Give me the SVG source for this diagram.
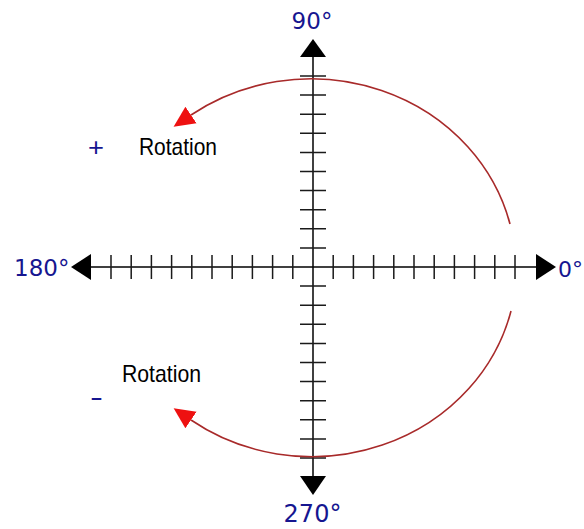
<svg xmlns="http://www.w3.org/2000/svg" width="584" height="529" viewBox="0 0 584 529">
  <style>
    .axis{stroke:#000;stroke-width:1.5;fill:none}
    .tick{stroke:#1a1a1a;stroke-width:1.5;fill:none}
    .head{fill:#000}
    .deg{font-family:"DejaVu Sans",Verdana,sans-serif;fill:#161690}
    .rot{font-family:"Liberation Sans",Arial,sans-serif;font-size:24px;fill:#000}
    .sign{font-family:"Liberation Sans",Arial,sans-serif;fill:#161690}
    .arc{stroke:#a82a2a;stroke-width:1.6;fill:none}
  </style>
  <defs>
    <marker id="redhead" markerUnits="userSpaceOnUse" markerWidth="24" markerHeight="22" refX="0" refY="10" orient="auto" viewBox="0 0 24 20">
      <path d="M0,0 L21,10 L0,20 z" fill="#ee1111"/>
    </marker>
  </defs>
  <rect width="584" height="529" fill="#fff"/>
  <g id="axes">
    <line class="axis" x1="91" y1="267" x2="536" y2="267"/>
    <line class="axis" x1="313" y1="57" x2="313" y2="476"/>
    <polygon class="head" points="313,39 300,57 326,57"/>
    <polygon class="head" points="313,495 300,476 326,476"/>
    <polygon class="head" points="71,267 91,254 91,280"/>
    <polygon class="head" points="556,267 536,254 536,280"/>
  </g>
  <g id="ticks">
    <path class="tick" d="M111,255V279M131.2,255V279M151.4,255V279M171.6,255V279M191.8,255V279M212,255V279M232.2,255V279M252.4,255V279M272.6,255V279M292.8,255V279M333.2,255V279M353.4,255V279M373.6,255V279M393.8,255V279M414,255V279M434.2,255V279M454.4,255V279M474.6,255V279M494.8,255V279M515,255V279"/>
    <path class="tick" d="M300,76H326M300,95.1H326M300,114.2H326M300,133.3H326M300,152.4H326M300,171.5H326M300,190.6H326M300,209.7H326M300,228.8H326M300,247.9H326M300,286.1H326M300,305.2H326M300,324.3H326M300,343.4H326M300,362.5H326M300,381.6H326M300,400.7H326M300,419.8H326M300,438.9H326M300,458H326"/>
  </g>
  <g id="label-90"><text class="deg" x="312" y="29" font-size="23" text-anchor="middle">90°</text></g>
  <g id="label-180"><text class="deg" x="14" y="276" font-size="23">180°</text></g>
  <g id="label-0"><text class="deg" x="558" y="277" font-size="22">0°</text></g>
  <g id="label-270"><text class="deg" x="312.5" y="522" font-size="24" text-anchor="middle">270°</text></g>
  <g id="label-plus-rotation">
    <text class="sign" x="88" y="156" font-size="25" textLength="16" lengthAdjust="spacingAndGlyphs">+</text>
    <text class="rot" x="139" y="155" textLength="78" lengthAdjust="spacingAndGlyphs">Rotation</text>
  </g>
  <g id="label-minus-rotation">
    <text class="rot" x="122" y="382" textLength="79" lengthAdjust="spacingAndGlyphs">Rotation</text>
    <text class="sign" x="90" y="404.5" font-size="24" textLength="13" lengthAdjust="spacingAndGlyphs">-</text>
  </g>
  <g id="connectors">
    <path class="arc" d="M510,224 A205,191 0 0 0 191,115" marker-end="url(#redhead)"/>
    <path class="arc" d="M511,311 A205,191 0 0 1 191,420" marker-end="url(#redhead)"/>
  </g>
</svg>
